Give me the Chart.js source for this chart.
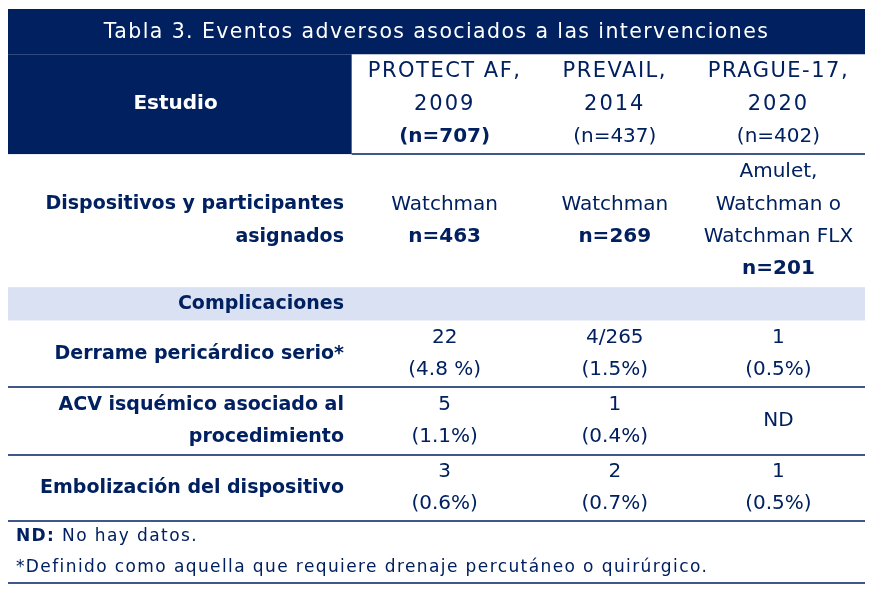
<!DOCTYPE html>
<html>
<head>
<meta charset="utf-8">
<script src="https://cdn.jsdelivr.net/npm/chart.js@4.4.1/dist/chart.umd.min.js"></script>
<style>
  html, body { margin: 0; padding: 0; background: #fff; }
</style>
</head>
<body>
<canvas id="myChart" width="876" height="591"></canvas>
<script>
// ---- table content ----
const title = 'Tabla 3. Eventos adversos asociados a las intervenciones';
const headerLabel = 'Estudio';
const studies = [['PROTECT AF,', '2009', '(n=707)'], ['PREVAIL,', '2014', '(n=437)'], ['PRAGUE-17,', '2020', '(n=402)']];
const studyBoldN = [true, false, false];
const deviceLabel = ['Dispositivos y participantes', 'asignados'];
const devices = [['Watchman'], ['Watchman'], ['Amulet,', 'Watchman o', 'Watchman FLX']];
const deviceN = ['n=463', 'n=269', 'n=201'];
const sectionLabel = 'Complicaciones';
const events = [['Derrame pericárdico serio*'], ['ACV isquémico asociado al', 'procedimiento'], ['Embolización del dispositivo']];
const eventCounts = [['22', '4/265', '1'], ['5', '1', 'ND'], ['3', '2', '1']];
const eventPct = [['(4.8 %)', '(1.5%)', '(0.5%)'], ['(1.1%)', '(0.4%)', null], ['(0.6%)', '(0.7%)', '(0.5%)']];
const notes = [['ND:', ' No hay datos.'], ['', '*Definido como aquella que requiere drenaje percutáneo o quirúrgico.']];

// ---- layout in scale units ----
const colEdges = [0, 40.1, 61.8, 79.8, 100];
const rowHeights = [1.36, 3, 4, 1, 2, 2.03, 2, 0.93, 0.93];
const rowTops = [0];
rowHeights.forEach(h => rowTops.push(rowTops[rowTops.length - 1] + h));
const tableBottom = rowTops[rowTops.length - 1];
const rowMid = i => (rowTops[i] + rowTops[i + 1]) / 2;
const colMid = j => (colEdges[j] + colEdges[j + 1]) / 2;

const NAVY = '#002060';
const BAND = '#d9e1f2';
const FONT = '"DejaVu Sans", sans-serif';
const labelX = 39.2;

const run = (t, b, o) => Object.assign({ t, b: !!b }, o || {});
const cells = [];
cells.push({ x: 50, y: rowMid(0) + 0.04, lines: [[run(title)]], color: '#fff', size: 20.5, ls: 1.4 });
cells.push({ x: colMid(0) - 0.5, y: rowMid(1), lines: [[run(headerLabel, true)]], color: '#fff', size: 20 });
studies.forEach((s, j) => {
  cells.push({
    x: colMid(j + 1), y: rowMid(1), size: 20,
    lines: [[run(s[0], false, { size: 21, ls: 1.5 })], [run(s[1], false, { size: 21, ls: 2 })], [run(s[2], studyBoldN[j])]]
  });
});
cells.push({ x: labelX, y: rowMid(2), align: 'right', lines: deviceLabel.map(t => [run(t, true)]), size: 19 });
devices.forEach((d, j) => {
  cells.push({ x: colMid(j + 1), y: rowMid(2), lines: d.map(t => [run(t)]).concat([[run(deviceN[j], true)]]), size: 20 });
});
cells.push({ x: labelX, y: rowMid(3), align: 'right', lines: [[run(sectionLabel, true)]], size: 19 });
events.forEach((e, i) => {
  cells.push({ x: labelX, y: rowMid(4 + i), align: 'right', lines: e.map(t => [run(t, true)]), size: 19 });
  eventCounts[i].forEach((c, j) => {
    const lines = [[run(c)]];
    if (eventPct[i][j]) lines.push([run(eventPct[i][j])]);
    cells.push({ x: colMid(j + 1), y: rowMid(4 + i), lines, size: 20 });
  });
});
notes.forEach((n, k) => {
  cells.push({ x: 0.93, y: rowMid(7 + k), align: 'left', lines: [[run(n[0], true), run(n[1])]], size: 17, ls: 1.4 });
});

const tablePlugin = {
  id: 'tablePlugin',
  beforeDatasetsDraw(chart) {
    const { ctx, scales: { x, y } } = chart;
    const rect = (x0, x1, y0, y1, c) => {
      ctx.fillStyle = c;
      const px0 = x.getPixelForValue(x0), px1 = x.getPixelForValue(x1);
      const py0 = y.getPixelForValue(y0), py1 = y.getPixelForValue(y1);
      ctx.fillRect(px0, py0, px1 - px0, py1 - py0);
    };
    const hline = (x0, x1, yv) => {
      const py = Math.round(y.getPixelForValue(yv));
      ctx.strokeStyle = NAVY;
      ctx.lineWidth = 1.5;
      ctx.beginPath();
      ctx.moveTo(x.getPixelForValue(x0), py);
      ctx.lineTo(x.getPixelForValue(x1), py);
      ctx.stroke();
    };
    ctx.save();
    rect(0, 100, rowTops[0], rowTops[1], NAVY);
    rect(colEdges[0], colEdges[1], rowTops[1], rowTops[2], NAVY);
    rect(0, 100, rowTops[3], rowTops[4], BAND);
    hline(colEdges[1], 100, rowTops[2]);
    hline(0, 100, rowTops[5]);
    hline(0, 100, rowTops[6]);
    hline(0, 100, rowTops[7]);
    hline(0, 100, tableBottom);
    ctx.restore();
  },
  afterDatasetsDraw(chart) {
    const { ctx, scales: { y } } = chart;
    const step = Math.abs(y.getPixelForValue(0.97) - y.getPixelForValue(0));
    const meta = chart.getDatasetMeta(0);
    const setFont = (c, r) => {
      ctx.font = (r.b ? 'bold ' : '') + (r.size || c.size) + 'px ' + FONT;
      ctx.letterSpacing = (r.ls !== undefined ? r.ls : (c.ls || 0)) + 'px';
    };
    ctx.save();
    ctx.textBaseline = 'middle';
    ctx.textAlign = 'left';
    meta.data.forEach((el, i) => {
      const c = cells[i];
      const n = c.lines.length;
      c.lines.forEach((line, li) => {
        const py = el.y + (li - (n - 1) / 2) * step;
        const widths = line.map(r => {
          setFont(c, r);
          return ctx.measureText(r.t).width;
        });
        const total = widths.reduce((a, b) => a + b, 0);
        let px = el.x;
        if (c.align === 'right') px -= total;
        else if (c.align !== 'left') px -= total / 2;
        ctx.fillStyle = c.color || NAVY;
        line.forEach((r, ri) => {
          setFont(c, r);
          ctx.fillText(r.t, px, py);
          px += widths[ri];
        });
      });
    });
    ctx.letterSpacing = '0px';
    ctx.restore();
  }
};

const ctx = document.getElementById('myChart').getContext('2d');
new Chart(ctx, {
  type: 'scatter',
  data: {
    datasets: [{
      data: cells.map(c => ({ x: c.x, y: c.y })),
      pointRadius: 0,
      pointHoverRadius: 0
    }]
  },
  options: {
    responsive: false,
    animation: false,
    layout: { padding: { left: 8, right: 11, top: 9, bottom: 8 } },
    plugins: { legend: { display: false }, tooltip: { enabled: false } },
    scales: {
      x: { type: 'linear', min: 0, max: 100, display: false },
      y: { type: 'linear', min: 0, max: tableBottom, reverse: true, display: false }
    }
  },
  plugins: [tablePlugin]
});
</script>
</body>
</html>
